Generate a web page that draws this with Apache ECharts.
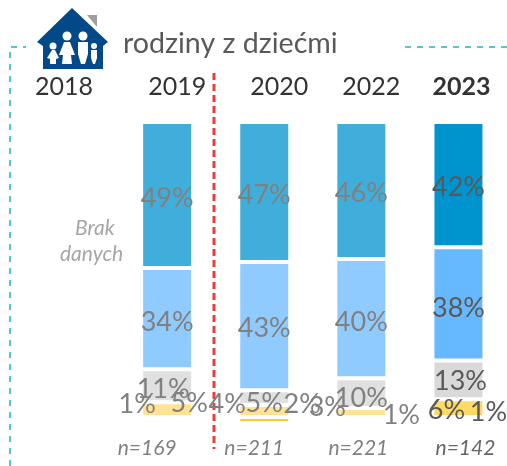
<!DOCTYPE html>
<html><head><meta charset="utf-8">
<style>html,body{margin:0;padding:0;background:#fff}#c{width:507px;height:466px}</style>
<script src="https://cdn.jsdelivr.net/npm/echarts@6/dist/echarts.min.js"></script></head>
<body><div id="c"></div>
<script>
const years = ['2018','2019','2020','2022','2023'];
const sampleLabels = ['', 'n=169','n=211','n=221','n=142'];
const seg1 = [null,49,47,46,42];
const seg2 = [null,34,43,40,38];
const seg3 = [null,11,5,10,13];
const seg4 = [null,5,4,3,6];
const seg5 = [null,1,2,1,1];
const segments = [seg1,seg2,seg3,seg4,seg5];

const FONT = 'Lato';
const colours = [
  [null,'#40aedb','#40aedb','#40aedb','#0094cf'],
  [null,'#8fcbff','#8fcbff','#8fcbff','#66b8ff'],
  [null,'#e0e0e0','#e0e0e0','#e0e0e0','#d9d9d9'],
  [null,'#ffe294','#ffe294','#ffe294','#ffd966'],
  [null,'#fff3d3','#ffc833','#ffc833','#ffffff']
];
const labelShift = [
  [null,[0,3],[0,3],[0,3],[0,3]],
  [null,[0,4],[0,2],[0,4],[0,5]],
  [null,[-4,4],[0,6],[0,5],[2,2]],
  [null,[22,-6],[-37,-7],[-34,-5],[-12,2]],
  [null,[-30,-14],[38,-16],[40,-3],[30,-6]]
];
const yearPad = {'2018':[0,12,0,0],'2019':[0,0,0,20],'2020':[0,0,0,30],'2022':[0,0,0,20],'2023':[0,0,0,6]};
const samplePad = {'n=169':[0,40,0,0],'n=211':[0,20,0,0],'n=221':[0,6,0,0],'n=142':[0,0,0,14]};

const rich = {};
years.forEach(y=>{rich['y'+y]={fontFamily:FONT,fontSize:25,color:'#333',fontWeight:y==='2023'?'bold':'normal',padding:yearPad[y]};});
const nRich = {};
sampleLabels.forEach((s,i)=>{ if(s) nRich['n'+i]={fontFamily:FONT,fontSize:21,fontStyle:'italic',color:i===4?'#666':'#808080',padding:samplePad[s]};});

const series = segments.map((vals,si)=>({
  type:'bar', stack:'a', barWidth:52, xAxisIndex:0, yAxisIndex:0,
  data: vals.map((v,i)=> v===null? null : ({
    value:v,
    itemStyle:{color:colours[si][i],borderColor:'#fff',borderWidth:2},
    label:{show:true,position:'inside',formatter:v+'%',fontFamily:FONT,fontSize:27,
      color:i===4?'#595959':'#808080'}
  })),
  labelLayout:p=>{const s=labelShift[si][p.dataIndex];return s?{dx:s[0],dy:s[1],hideOverlap:false}:{};},
  z:2
}));

function person(cx,headY,r,body){
  return [
    {type:'circle',shape:{cx:cx,cy:headY,r:r},style:{fill:'#fff'}},
    {type:'polygon',shape:{points:body},style:{fill:'#fff'}}
  ];
}
const houseParts = [
  {type:'polygon',shape:{points:[[87,15],[97,15],[97,27]]},style:{fill:'#a0a0a0'}},
  {type:'polygon',shape:{points:[[72,8],[108,42],[103,46],[103,69],[43,69],[43,46],[37,42]]},style:{fill:'#014a87'}},
  ...person(53,46,3.5,[[52,50],[55,50],[59,58],[56,59],[56,64],[50,64],[50,59],[47,58]]),
  ...person(67,36,4.5,[[64,42],[70,42],[75,55],[71,55],[72,64],[62,64],[63,55],[59,55]]),
  ...person(83,36,4.5,[[78,42],[88,42],[88,54],[85,64],[81,64],[78,54]]),
  ...person(94,46,3,[[91,50],[97,50],[97,58],[95,64],[93,64],[91,58]])
];
const dash = (pts,col,w,d)=>({type:'polyline',shape:{points:pts},style:{stroke:col,lineWidth:w,lineDash:d,fill:null},silent:true});

const option = {
  animation:false,
  textStyle:{fontFamily:FONT},
  grid:{left:21.5,top:122,width:489,height:301,containLabel:false},
  xAxis:[
    {type:'category',position:'top',data:years,axisLine:{show:false},axisTick:{show:false},
     axisLabel:{margin:23,interval:0,formatter:v=>'{y'+v+'|'+v+'}',rich:rich}},
    {type:'category',position:'bottom',data:sampleLabels,axisLine:{show:false},axisTick:{show:false},
     axisLabel:{margin:15,interval:0,formatter:(v,i)=>v?'{n'+i+'|'+v+'}':'',rich:nRich}}
  ],
  yAxis:{type:'value',inverse:true,min:0,max:101,show:false},
  series:series,
  graphic:[
    dash([[10,466],[10,47],[26,47]],'#55c9c9',2,[6,6]),
    dash([[405,47],[507,47]],'#55c9c9',2,[6,6]),
    dash([[214,73],[214,449]],'#ee3c3c',3,[7,4]),
    {type:'group',children:houseParts},
    {type:'text',left:123,top:29,style:{text:'rodziny z dziećmi',fontFamily:FONT,fontSize:28.6,fill:'#595959'}},
    {type:'text',left:75,top:218,style:{text:'Brak',fontFamily:FONT,fontSize:21,fontStyle:'italic',fill:'#a6a6a6'}},
    {type:'text',left:60,top:244,style:{text:'danych',fontFamily:FONT,fontSize:21,fontStyle:'italic',fill:'#a6a6a6'}}
  ]
};
echarts.init(document.getElementById('c'),null,{renderer:'canvas'}).setOption(option);
</script></body></html>
